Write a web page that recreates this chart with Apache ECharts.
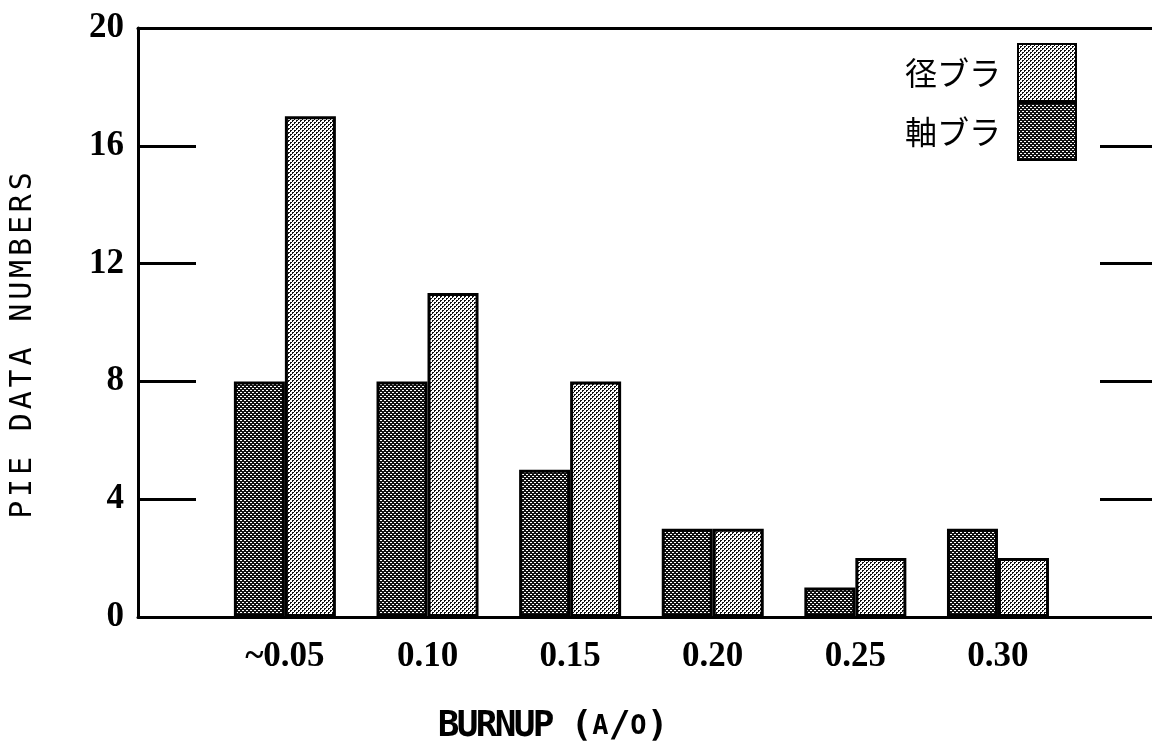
<!DOCTYPE html>
<html>
<head>
<meta charset="utf-8">
<title>BURNUP vs PIE DATA NUMBERS</title>
<script src="https://cdn.jsdelivr.net/npm/echarts@6/dist/echarts.min.js"></script>
<style>
  html, body { margin: 0; padding: 0; background: #fff; }
  #chart { width: 1152px; height: 751px; }
</style>
</head>
<body>
<div id="chart"></div>
<script>
// Burnup bins (a/o) and their tick labels
const burnup = [0.05, 0.10, 0.15, 0.20, 0.25, 0.30];
const burnupLabels = ['~0.05', '0.10', '0.15', '0.20', '0.25', '0.30'];

// Number of PIE data per bin
const axialValues = [8, 8, 5, 3, 1, 3];     // 軸ブラ
const radialValues = [17, 11, 8, 3, 2, 2];  // 径ブラ

// Count axis ticks
const countTicks = [0, 4, 8, 12, 16, 20];

const seriesNames = ['軸ブラ', '径ブラ'];
const legendOrder = ['径ブラ', '軸ブラ'];

// Halftone-like dot fills for the bars
function dotPattern(bg, fg, pixels) {
  const c = document.createElement('canvas');
  c.width = 4; c.height = 4;
  const ctx = c.getContext('2d');
  ctx.fillStyle = bg;
  ctx.fillRect(0, 0, 4, 4);
  ctx.fillStyle = fg;
  pixels.forEach(p => ctx.fillRect(p[0], p[1], 1, 1));
  return { image: c, repeat: 'repeat' };
}
const darkFill = dotPattern('#111', '#fff', [[0, 0], [1, 0], [2, 2], [3, 2]]);
const lightFill = dotPattern('#fff', '#111', [[0, 0], [1, 0], [0, 1], [2, 2], [3, 2], [2, 3]]);

// Spread title letters into fixed-width cells
function cells(text, style) {
  return text.split('').map(ch => '{' + style + '|' + (ch === ' ' ? '\u00a0' : ch) + '}').join('');
}
const xTitle = cells('BURNUP (', 'b') + cells('A', 's') + cells('/', 'b') + cells('O', 's') + cells(')', 'b');
const yTitle = cells('PIE DATA NUMBERS', 'c');

const chart = echarts.init(document.getElementById('chart'), null, { renderer: 'canvas' });

const barStyle = (fill) => ({ color: fill, borderColor: '#000', borderWidth: 3 });
const tickFont = { fontFamily: 'Liberation Serif', fontWeight: 'bold', fontSize: 35, color: '#000' };

chart.setOption({
  backgroundColor: '#fff',
  animation: false,
  grid: { left: 137, right: 0, top: 28, bottom: 134, containLabel: false },
  legend: {
    data: legendOrder,
    orient: 'vertical',
    right: 70,
    top: 38,
    align: 'right',
    itemWidth: 58,
    itemHeight: 57,
    itemGap: 0,
    icon: 'rect',
    textStyle: { fontFamily: 'Noto Sans CJK JP', fontSize: 32, color: '#000', padding: [0, 12, 0, 0] }
  },
  xAxis: [
    {
      type: 'value',
      position: 'bottom',
      min: -0.0015,
      max: 0.354,
      axisLine: { show: true, onZero: false, lineStyle: { color: '#000', width: 3 } },
      axisTick: { show: false },
      splitLine: { show: false },
      axisLabel: Object.assign({
        margin: 22,
        customValues: burnup,
        formatter: function (v) {
          const i = burnup.findIndex(b => Math.abs(b - v) < 1e-6);
          return i >= 0 ? burnupLabels[i] : '';
        }
      }, tickFont),
      name: xTitle,
      nameLocation: 'middle',
      nameGap: 92,
      nameTextStyle: {
        padding: [0, 184, 0, 0],
        rich: {
          b: { fontFamily: 'DejaVu Sans Mono', fontWeight: 'bold', fontSize: 36, width: 19, align: 'center', color: '#000' },
          s: { fontFamily: 'DejaVu Sans Mono', fontWeight: 'bold', fontSize: 27, width: 19, align: 'center', color: '#000' }
        }
      }
    },
    {
      type: 'value',
      position: 'top',
      min: -0.0015,
      max: 0.354,
      axisLine: { show: true, onZero: false, lineStyle: { color: '#000', width: 3 } },
      axisTick: { show: false },
      axisLabel: { show: false },
      splitLine: { show: false }
    }
  ],
  yAxis: [
    {
      type: 'value',
      position: 'left',
      min: 0,
      max: 20,
      axisLine: { show: true, onZero: false, lineStyle: { color: '#000', width: 3 } },
      axisTick: { show: true, inside: true, length: 58, customValues: countTicks, lineStyle: { color: '#000', width: 3 } },
      splitLine: { show: false },
      axisLabel: Object.assign({ margin: 14, customValues: countTicks }, tickFont),
      name: yTitle,
      nameLocation: 'middle',
      nameGap: 100,
      nameTextStyle: {
        padding: [0, 46, 0, 0],
        rich: {
          c: { fontFamily: 'DejaVu Sans Mono', fontSize: 30, width: 21.9, align: 'center', color: '#000' }
        }
      }
    },
    {
      type: 'value',
      position: 'right',
      min: 0,
      max: 20,
      axisLine: { show: false, onZero: false },
      axisTick: { show: true, inside: true, length: 52, customValues: countTicks, lineStyle: { color: '#000', width: 3 } },
      axisLabel: { show: false },
      splitLine: { show: false }
    }
  ],
  series: [
    {
      name: seriesNames[0],
      type: 'bar',
      xAxisIndex: 0,
      yAxisIndex: 0,
      barWidth: 51,
      barGap: '0%',
      itemStyle: barStyle(darkFill),
      data: burnup.map((b, i) => [b, axialValues[i]])
    },
    {
      name: seriesNames[1],
      type: 'bar',
      xAxisIndex: 0,
      yAxisIndex: 0,
      barWidth: 51,
      barGap: '0%',
      itemStyle: barStyle(lightFill),
      data: burnup.map((b, i) => [b, radialValues[i]])
    }
  ]
});
</script>
</body>
</html>
